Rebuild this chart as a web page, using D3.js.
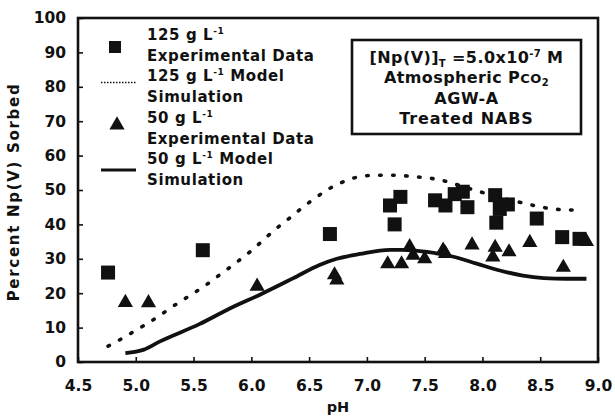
<!DOCTYPE html>
<html lang="en">
<head>
<meta charset="UTF-8">
<title>Np(V) sorption vs pH</title>
<script src="https://cdn.jsdelivr.net/npm/d3@7/dist/d3.min.js"></script>
<style>
    body { margin: 0; background: #fff; }
    text { font-family: "DejaVu Sans", Verdana, sans-serif; font-weight: bold; fill: #111; }
</style>
</head>
<body>
<svg width="615" height="417"></svg>
<script>
    // data: [pH, percent sorbed]
    var exp125 = [[4.76,26],[5.58,32.5],[6.68,37.2],[7.20,45.5],[7.29,48],[7.24,40],[7.59,47],
        [7.68,45.5],[7.76,48.8],[7.83,49.5],[7.87,45],[8.11,48.5],[8.12,40.5],[8.15,44.5],
        [8.22,45.8],[8.47,41.7],[8.69,36.3],[8.84,35.8]];
    var exp50 = [[4.91,17.3],[5.11,17.2],[6.05,22],[6.72,25.3],[6.74,23.8],[7.18,28.5],[7.30,28.5],
        [7.37,33.5],[7.40,31],[7.50,30],[7.66,32.5],[7.68,31.5],[7.91,34],[8.09,30.5],[8.11,33.3],
        [8.23,32],[8.41,34.7],[8.70,27.5],[8.90,35]];
    var model125 = [[4.76,4.6],[4.89,7.0],[5.01,9.4],[5.12,11.6],[5.35,16.8],[5.50,20.0],[5.60,22.2],
        [5.70,24.7],[5.81,27.4],[5.92,30.2],[6.02,32.9],[6.12,36.0],[6.22,38.9],[6.33,41.8],[6.45,45.1],
        [6.55,47.6],[6.68,50.5],[6.82,52.7],[6.94,53.9],[7.08,54.3],[7.24,54.3],[7.40,53.9],[7.59,53.2],
        [7.72,52.2],[7.83,51.0],[7.95,49.8],[8.15,47.8],[8.38,46.0],[8.50,45.1],[8.64,44.4],[8.73,44.2],[8.84,44.2]];
    var model50 = [[4.91,2.6],[5.07,3.6],[5.21,6.0],[5.55,11.0],[5.84,16.0],[6.07,19.5],[6.36,24.3],
        [6.59,28.2],[6.74,30.0],[6.94,31.4],[7.20,32.6],[7.31,32.6],[7.52,32.0],[7.75,30.6],[7.95,28.6],
        [8.15,26.6],[8.35,25.1],[8.53,24.4],[8.73,24.2],[8.90,24.2]];

    var xTicks = [4.5,5.0,5.5,6.0,6.5,7.0,7.5,8.0,8.5,9.0];
    var xTickLabels = ["4.5","5.0","5.5","6.0","6.5","7.0","7.5","8.0","8.5","9.0"];
    var yTicks = [0,10,20,30,40,50,60,70,80,90,100];
    var yTickLabels = ["0","10","20","30","40","50","60","70","80","90","100"];

    var legendLabels = [
        ["125 g L", "-1", ""], ["Experimental Data"],
        ["125 g L", "-1", " Model"], ["Simulation"],
        ["50 g L", "-1", ""], ["Experimental Data"],
        ["50 g L", "-1", " Model"], ["Simulation"]
    ];

    var svg = d3.select("svg");
    var pLeft = 78, pRight = 598, pTop = 18, pBottom = 362;

    var x = d3.scaleLinear().domain([4.5, 9.0]).range([pLeft, pRight]);
    var y = d3.scaleLinear().domain([0, 100]).range([pBottom, pTop]);

    // axes: ticks point inward, minor ticks every half step
    var gx = svg.append("g").attr("transform", "translate(0," + pBottom + ")");
    gx.call(d3.axisBottom(x).tickValues(d3.range(4.5, 9.01, 0.25)).tickSize(-5).tickFormat(""));
    gx.call(d3.axisBottom(x).tickValues(xTicks).tickSize(-5).tickPadding(18)
        .tickFormat(function (d, i) { return xTickLabels[i]; }));
    var gy = svg.append("g").attr("transform", "translate(" + pLeft + ",0)");
    gy.call(d3.axisLeft(y).tickValues(d3.range(0, 100.1, 5)).tickSize(-5).tickFormat(""));
    gy.call(d3.axisLeft(y).tickValues(yTicks).tickSize(-5).tickPadding(12)
        .tickFormat(function (d, i) { return yTickLabels[i]; }));
    svg.selectAll(".domain").remove();
    svg.selectAll(".tick line").attr("stroke", "#111").attr("stroke-width", 1.6);
    svg.selectAll(".tick text").attr("font-size", 15.5).attr("font-family", null).attr("fill", "#111");

    // plot frame
    svg.append("rect")
        .attr("x", pLeft).attr("y", pTop)
        .attr("width", pRight - pLeft).attr("height", pBottom - pTop)
        .attr("fill", "none").attr("stroke", "#111").attr("stroke-width", 2.6);

    // axis titles
    svg.append("text").attr("x", (pLeft + pRight) / 2).attr("y", 412)
        .attr("text-anchor", "middle").attr("font-size", 14.5).text("pH");
    svg.append("text").attr("transform", "translate(19,192) rotate(-90)")
        .attr("text-anchor", "middle").attr("font-size", 15).attr("letter-spacing", 1.7)
        .text("Percent Np(V) Sorbed");

    // model curves
    var line = d3.line()
        .x(function (d) { return x(d[0]); })
        .y(function (d) { return y(d[1]); })
        .curve(d3.curveMonotoneX);
    svg.append("path").attr("d", line(model125))
        .attr("fill", "none").attr("stroke", "#111").attr("stroke-width", 3.6)
        .attr("stroke-dasharray", "1.5,11.5").attr("stroke-linecap", "round");
    svg.append("path").attr("d", line(model50))
        .attr("fill", "none").attr("stroke", "#111").attr("stroke-width", 3.8)
        .attr("stroke-linejoin", "round");

    // experimental points
    var sqSize = 14;
    svg.selectAll(".sq").data(exp125).enter().append("rect")
        .attr("x", function (d) { return x(d[0]) - sqSize / 2; })
        .attr("y", function (d) { return y(d[1]) - sqSize / 2; })
        .attr("width", sqSize).attr("height", sqSize).attr("fill", "#111");
    var tri = d3.symbol().type(d3.symbolTriangle).size(100);
    svg.selectAll(".tri").data(exp50).enter().append("path")
        .attr("transform", function (d) { return "translate(" + x(d[0]) + "," + y(d[1]) + ")"; })
        .attr("d", tri).attr("fill", "#111");

    // legend
    var lg = svg.append("g");
    legendLabels.forEach(function (lab, i) {
        var t = lg.append("text").attr("x", 147).attr("y", 40 + i * 20.7)
            .attr("font-size", 15).attr("letter-spacing", 0.6);
        t.append("tspan").text(lab[0]);
        if (lab.length > 1) {
            t.append("tspan").attr("font-size", 9).attr("dy", -6).text(lab[1]);
            t.append("tspan").attr("dy", 6).text(lab[2]);
        }
    });
    lg.append("rect").attr("x", 109).attr("y", 41).attr("width", 12).attr("height", 12).attr("fill", "#111");
    lg.append("line").attr("x1", 101).attr("x2", 136).attr("y1", 82.5).attr("y2", 82.5)
        .attr("stroke", "#111").attr("stroke-width", 1.6).attr("stroke-dasharray", "1.5,1.5");
    lg.append("path").attr("transform", "translate(117,125)").attr("d", tri).attr("fill", "#111");
    lg.append("line").attr("x1", 101).attr("x2", 136).attr("y1", 170).attr("y2", 170)
        .attr("stroke", "#111").attr("stroke-width", 3);

    // condition box
    var bx = svg.append("g");
    bx.append("rect").attr("x", 352).attr("y", 40).attr("width", 229).attr("height", 94)
        .attr("fill", "#fff").attr("stroke", "#111").attr("stroke-width", 2.6);
    var cx = 466.5;
    var l1 = bx.append("text").attr("x", cx).attr("y", 63).attr("text-anchor", "middle")
        .attr("font-size", 16).attr("letter-spacing", 0.4);
    l1.append("tspan").text("[Np(V)]");
    l1.append("tspan").attr("font-size", 10).attr("dy", 4).text("T");
    l1.append("tspan").attr("dy", -4).text(" =5.0x10");
    l1.append("tspan").attr("font-size", 10).attr("dy", -6).text("-7");
    l1.append("tspan").attr("dy", 6).text(" M");
    var l2 = bx.append("text").attr("x", cx).attr("y", 83).attr("text-anchor", "middle")
        .attr("font-size", 16).attr("letter-spacing", 0.4);
    l2.append("tspan").text("Atmospheric P");
    l2.append("tspan").attr("font-size", 13).text("CO");
    l2.append("tspan").attr("font-size", 10).attr("dy", 3).text("2");
    bx.append("text").attr("x", cx).attr("y", 104).attr("text-anchor", "middle")
        .attr("font-size", 16).attr("letter-spacing", 0.6).text("AGW-A");
    bx.append("text").attr("x", cx).attr("y", 124).attr("text-anchor", "middle")
        .attr("font-size", 16).attr("letter-spacing", 0.9).text("Treated NABS");
</script>
</body>
</html>
